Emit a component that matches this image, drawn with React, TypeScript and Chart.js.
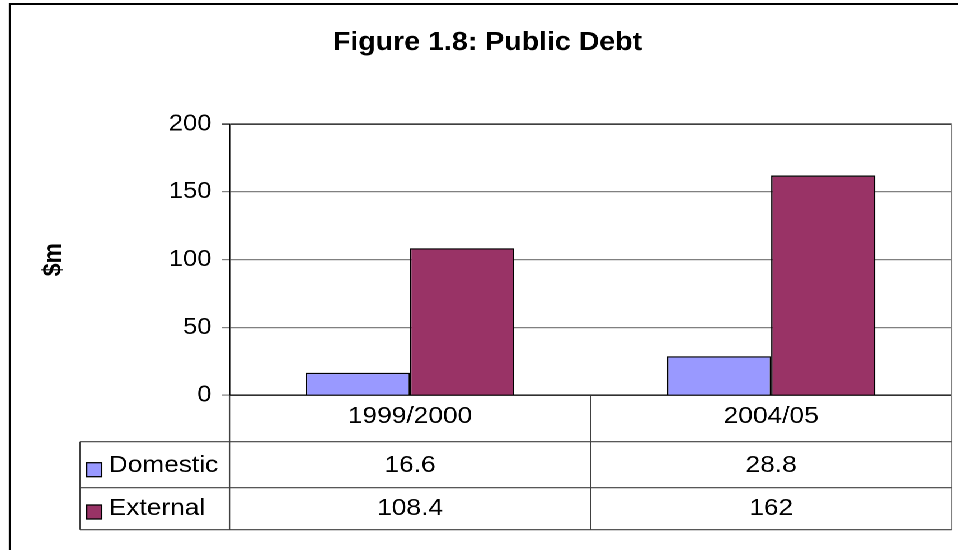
import React, { useEffect, useRef } from "react";
import { Chart, registerables } from "chart.js";

Chart.register(...registerables);

// ---- data ----
const chartTitle = "Figure 1.8: Public Debt";
const yAxisTitle = "$m";
const categories = ["1999/2000", "2004/05"];
const seriesNames = ["Domestic", "External"];
const domesticValues = [16.6, 28.8];
const externalValues = [108.4, 162];
const tableDomestic = ["16.6", "28.8"];
const tableExternal = ["108.4", "162"];
const seriesColors = ["#9999FF", "#993366"];
const yMin = 0;
const yMax = 200;
const yStep = 50;

// ---- geometry (reference appears horizontally stretched) ----
const W = 856;
const H = 550;
const S = 958 / W;
const X = (px: number) => px / S;

const FONT = '"Liberation Sans", Arial, Helvetica, sans-serif';

const PLOT_TOP = 124;
const PLOT_BOTTOM = 395.3;
const PLOT_LEFT = X(229.5);
const PLOT_RIGHT = X(951.7);
const TABLE_LEFT = X(80);
const ROW_LINES = [441.7, 487.7, 529.7];
const ROW_TEXT_Y = [465.5, 508.5];
const KEY_TOP = [462.7, 505];

const tablePlugin = {
  id: "excelDataTable",
  beforeDraw(chart: any) {
    const ctx = chart.ctx;
    ctx.save();
    ctx.fillStyle = "#ffffff";
    ctx.fillRect(0, 0, chart.width, chart.height);
    ctx.restore();
  },
  afterDraw(chart: any) {
    const ctx = chart.ctx;
    const area = chart.chartArea;
    const xs = chart.scales.x;
    ctx.save();

    // outer chart border (top + left visible)
    ctx.strokeStyle = "#000";
    ctx.lineWidth = 2;
    ctx.beginPath();
    ctx.moveTo(X(10), H + 20);
    ctx.lineTo(X(10), 4);
    ctx.lineTo(W + 20, 4);
    ctx.stroke();

    // title
    ctx.fillStyle = "#000";
    ctx.font = `bold 25.5px ${FONT}`;
    ctx.textAlign = "center";
    ctx.textBaseline = "alphabetic";
    ctx.fillText(chartTitle, X(487.5), 50);

    // right border of plot area
    ctx.strokeStyle = "#808080";
    ctx.lineWidth = 1.3;
    ctx.beginPath();
    ctx.moveTo(area.right, area.top);
    ctx.lineTo(area.right, ROW_LINES[2]);
    ctx.stroke();

    // table lines
    ctx.strokeStyle = "#404040";
    ctx.lineWidth = 1.2;
    ctx.beginPath();
    for (const y of ROW_LINES) {
      ctx.moveTo(TABLE_LEFT, y);
      ctx.lineTo(area.right, y);
    }
    ctx.moveTo(TABLE_LEFT, ROW_LINES[0]);
    ctx.lineTo(TABLE_LEFT, ROW_LINES[2]);
    ctx.moveTo(area.left, area.bottom);
    ctx.lineTo(area.left, ROW_LINES[2]);
    const mid = (xs.getPixelForValue(0) + xs.getPixelForValue(1)) / 2;
    ctx.moveTo(mid, area.bottom);
    ctx.lineTo(mid, ROW_LINES[2]);
    ctx.stroke();

    // rows: legend keys, names, values
    const rows = [tableDomestic, tableExternal];
    ctx.font = `23.5px ${FONT}`;
    ctx.textBaseline = "middle";
    for (let r = 0; r < seriesNames.length; r++) {
      ctx.fillStyle = seriesColors[r];
      ctx.fillRect(X(86.7), KEY_TOP[r], X(15), 14);
      ctx.strokeStyle = "#000";
      ctx.lineWidth = 1.3;
      ctx.strokeRect(X(86.7), KEY_TOP[r], X(15), 14);

      ctx.fillStyle = "#000";
      ctx.textAlign = "left";
      ctx.fillText(seriesNames[r], X(108.7), ROW_TEXT_Y[r]);

      ctx.textAlign = "center";
      for (let c = 0; c < categories.length; c++) {
        ctx.fillText(rows[r][c], xs.getPixelForValue(c), ROW_TEXT_Y[r]);
      }
    }
    ctx.restore();
  },
};

export default function App() {
  const canvasRef = useRef<HTMLCanvasElement | null>(null);

  useEffect(() => {
    const canvas = canvasRef.current;
    if (!canvas) return;
    const chart = new Chart(canvas, {
      type: "bar",
      data: {
        labels: categories,
        datasets: [
          {
            label: seriesNames[0],
            data: domesticValues,
            backgroundColor: seriesColors[0],
            borderColor: "#000",
            borderWidth: 1.3,
            categoryPercentage: 0.577,
            barPercentage: 1,
          },
          {
            label: seriesNames[1],
            data: externalValues,
            backgroundColor: seriesColors[1],
            borderColor: "#000",
            borderWidth: 1.3,
            categoryPercentage: 0.577,
            barPercentage: 1,
          },
        ],
      },
      options: {
        responsive: false,
        animation: false,
        devicePixelRatio: 2,
        layout: {
          padding: { top: PLOT_TOP, right: W - PLOT_RIGHT, bottom: 0, left: 0 },
        },
        plugins: {
          legend: { display: false },
          title: { display: false },
          tooltip: { enabled: false },
        },
        scales: {
          x: {
            grid: { display: false, drawTicks: false },
            border: { display: true, color: "#000", width: 1.3 },
            ticks: {
              color: "#000",
              font: { family: FONT, size: 23.5 },
              padding: 7,
              maxRotation: 0,
            },
            afterFit: (scale: any) => {
              scale.height = H - PLOT_BOTTOM;
            },
          },
          y: {
            min: yMin,
            max: yMax,
            ticks: {
              stepSize: yStep,
              color: "#000",
              font: { family: FONT, size: 23 },
              padding: 9,
            },
            grid: {
              color: (ctx: any) => (ctx.tick && ctx.tick.value === yMax ? "#000" : "#808080"),
              lineWidth: 1.2,
              tickLength: 7,
              drawTicks: true,
            },
            border: { display: true, color: "#000", width: 1.3 },
            title: {
              display: true,
              text: yAxisTitle,
              color: "#000",
              font: { family: FONT, size: 23, weight: "bold" },
              padding: { top: 34.3, bottom: 0 },
            },
            afterFit: (scale: any) => {
              scale.width = PLOT_LEFT;
            },
          },
        },
      },
      plugins: [tablePlugin],
    } as any);
    return () => chart.destroy();
  }, []);

  return (
    <div
      style={{
        position: "fixed",
        left: 0,
        top: 0,
        width: W,
        height: H,
        transform: `scaleX(${S})`,
        transformOrigin: "0 0",
        background: "#fff",
      }}
    >
      <canvas
        ref={canvasRef}
        width={W}
        height={H}
        style={{ width: W, height: H, display: "block" }}
      />
    </div>
  );
}
